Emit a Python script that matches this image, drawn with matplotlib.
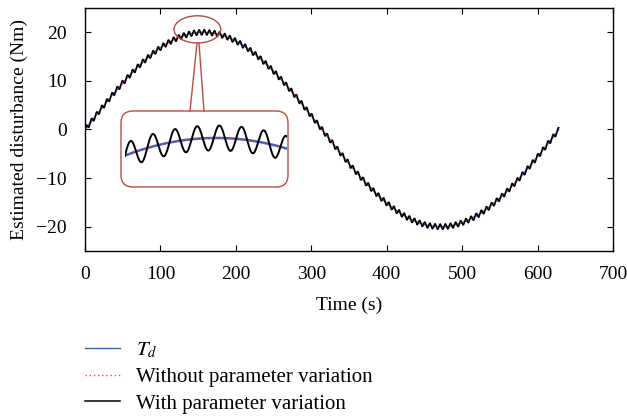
import numpy as np
import matplotlib
matplotlib.use("Agg")
import matplotlib.pyplot as plt
from matplotlib.patches import Ellipse, FancyBboxPatch
from matplotlib.lines import Line2D

# ---- data (model values) ----
t_end = 628.0               # s, end of simulation
td_amplitude = 20.0         # Nm
td_omega = 0.01             # rad/s
ripple_amplitude = 0.55     # Nm, ripple of the estimate with parameter variation
ripple_period = 6.8         # s
xticks = [0, 100, 200, 300, 400, 500, 600, 700]
yticks = [-20, -10, 0, 10, 20]
labels = [r"$T_d$", "Without parameter variation", "With parameter variation"]
zoom_t = [129.2, 178.8]     # time window shown in the magnified inset

t = np.linspace(0, t_end, 8000)
td = td_amplitude * np.sin(td_omega * t)
est_nominal = td.copy()
est_varied = td + ripple_amplitude * np.sin(2 * np.pi * t / ripple_period)

plt.rcParams["font.family"] = ["Liberation Serif", "DejaVu Serif"]
plt.rcParams["mathtext.fontset"] = "stix"

W, H = 627, 419
fig = plt.figure(figsize=(W / 100, H / 100), dpi=100)

def fx(px):
    return px / W

def fy(py):
    return 1 - py / H

ax = fig.add_axes([fx(85), fy(251), fx(613) - fx(85), fy(8) - fy(251)])
blue = "#3f5fbf"
red = "#e8484a"
frame = "#bc4b44"

l1, = ax.plot(t, td, color=blue, lw=1.0)
l2, = ax.plot(t, est_nominal, color=red, lw=1.0, ls=(0, (1, 2)))
l3, = ax.plot(t, est_varied, color="black", lw=1.1)
ax.set_xlim(0, 700)
ax.set_ylim(-25, 25)
ax.set_xticks(xticks)
ax.set_yticks(yticks)
ax.tick_params(direction="in", top=True, right=True, length=4, labelsize=14, width=0.8)
ax.tick_params(axis="x", pad=11)
ax.tick_params(axis="y", pad=13)
for s in ax.spines.values():
    s.set_linewidth(1.0)
ax.set_xlabel("Time (s)", fontsize=14, labelpad=9.5)
ax.set_ylabel("Estimated disturbance (Nm)", fontsize=14, labelpad=6)

# ellipse highlighting the zoomed region
ax.add_patch(Ellipse((149, 20.6), 62, 5.6, fill=False, edgecolor=frame, lw=1.0, zorder=5))

# rounded box + connectors (pixel positions via inches)
tr = fig.dpi_scale_trans
def ix(px):
    return px / 100
def iy(py):
    return (H - py) / 100
box = FancyBboxPatch((ix(121) + 0.12, iy(187) + 0.12), ix(288) - ix(121) - 0.24, iy(111) - iy(187) - 0.24,
                     boxstyle="round,pad=0.12", transform=tr, fill=False, edgecolor=frame, lw=1.0)
fig.patches.append(box)
fig.lines.append(Line2D([ix(197), ix(190)], [iy(43), iy(111)], transform=tr, color=frame, lw=1.0))
fig.lines.append(Line2D([ix(199), ix(204)], [iy(43), iy(111)], transform=tr, color=frame, lw=1.0))

# inset
axi = fig.add_axes([fx(125), fy(165), fx(287) - fx(125), fy(120) - fy(165)])
axi.plot(t, td, color=blue, lw=1.8)
axi.plot(t, est_nominal, color=red, lw=1.0, ls=(0, (1, 2.5)))
axi.plot(t, est_varied, color="black", lw=1.4)
axi.set_xlim(*zoom_t)
axi.set_ylim(18.81, 20.79)
axi.axis("off")

fig.legend([l1, l2, l3], labels, loc="upper left", bbox_to_anchor=(fx(85), fy(341)),
           frameon=False, fontsize=15, handlelength=1.7, handletextpad=0.75, labelspacing=0.33,
           borderaxespad=0, borderpad=0)

fig.savefig("out.png", dpi=100)
